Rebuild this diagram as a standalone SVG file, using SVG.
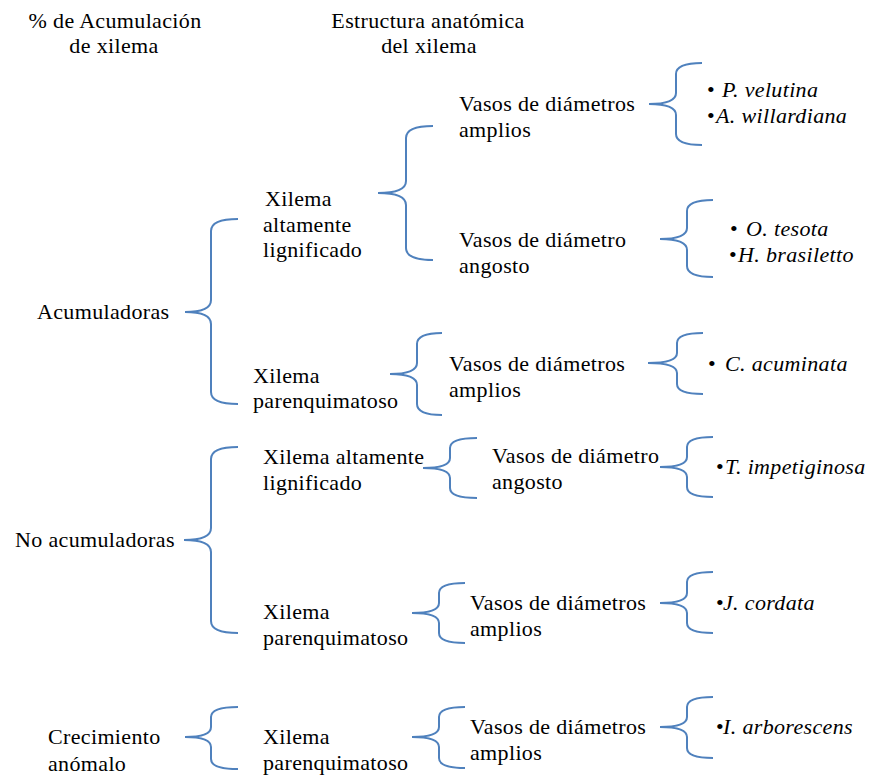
<svg xmlns="http://www.w3.org/2000/svg" width="872" height="777" viewBox="0 0 872 777">
<style>
text{font-family:"Liberation Serif","Times New Roman",serif;font-size:22px;letter-spacing:0.35px;fill:#000}
.sp{font-style:italic}
.br{fill:none;stroke:#4F81BD;stroke-width:2}
</style>
<rect width="872" height="777" fill="#fff"/>
<g id="connectors">
<path class="br" d="M238,219 Q211,219 211,231 L211,300 Q211,312 185,312 Q211,312 211,324 L211,392 Q211,404 238,404"/>
<path class="br" d="M433,126 Q406,126 406,138 L406,181 Q406,193 378,193 Q406,193 406,205 L406,248 Q406,260 433,260"/>
<path class="br" d="M702,63 Q676,63 676,74 L676,93 Q676,104 649,104 Q676,104 676,115 L676,134 Q676,145 702,145"/>
<path class="br" d="M713,200 Q687,200 687,211 L687,228 Q687,239 660,239 Q687,239 687,250 L687,266 Q687,277 713,277"/>
<path class="br" d="M442,333 Q417,333 417,344 L417,363 Q417,374 390,374 Q417,374 417,385 L417,404 Q417,415 442,415"/>
<path class="br" d="M703,333 Q677,333 677,343 L677,353 Q677,363 648,363 Q677,363 677,373 L677,384 Q677,394 703,394"/>
<path class="br" d="M238,447 Q211,447 211,459 L211,528 Q211,540 184,540 Q211,540 211,552 L211,621 Q211,633 238,633"/>
<path class="br" d="M477,438 Q450,438 450,448 L450,458 Q450,468 423,468 Q450,468 450,478 L450,488 Q450,498 477,498"/>
<path class="br" d="M713,437 Q687,437 687,447 L687,457 Q687,467 660,467 Q687,467 687,477 L687,487 Q687,497 713,497"/>
<path class="br" d="M465,583 Q439,583 439,593 L439,603 Q439,613 412,613 Q439,613 439,623 L439,633 Q439,643 465,643"/>
<path class="br" d="M713,572 Q687,572 687,582 L687,593 Q687,603 660,603 Q687,603 687,613 L687,623 Q687,633 713,633"/>
<path class="br" d="M238,707 Q211,707 211,717 L211,727 Q211,737 185,737 Q211,737 211,747 L211,759 Q211,769 238,769"/>
<path class="br" d="M465,707 Q439,707 439,717 L439,727 Q439,737 412,737 Q439,737 439,747 L439,758 Q439,768 465,768"/>
<path class="br" d="M713,697 Q687,697 687,707 L687,717 Q687,727 660,727 Q687,727 687,737 L687,748 Q687,758 713,758"/>
</g>
<g id="header1"><text x="115" y="28" text-anchor="middle">% de Acumulación</text><text x="114" y="53" text-anchor="middle">de xilema</text></g>
<g id="header2"><text x="428" y="28" text-anchor="middle">Estructura anatómica</text><text x="429" y="53" text-anchor="middle">del xilema</text></g>
<g id="acumuladoras"><text x="37" y="319">Acumuladoras</text></g>
<g id="xil-alt-1"><text x="265" y="206">Xilema</text><text x="263" y="232">altamente</text><text x="263" y="257">lignificado</text></g>
<g id="vasos-amplios-1"><text x="459" y="111">Vasos de diámetros</text><text x="459" y="137">amplios</text></g>
<g id="sp-1"><text x="707" y="97">• <tspan class="sp" x="722">P. velutina</tspan></text><text x="707" y="123">•<tspan class="sp" x="716">A. willardiana</tspan></text></g>
<g id="vasos-angosto-1"><text x="459" y="247">Vasos de diámetro</text><text x="459" y="273">angosto</text></g>
<g id="sp-2"><text x="730" y="236">• <tspan class="sp" x="746">O. tesota</tspan></text><text x="729" y="262">•<tspan class="sp" x="738">H. brasiletto</tspan></text></g>
<g id="xil-par-1"><text x="253" y="383">Xilema</text><text x="253" y="408">parenquimatoso</text></g>
<g id="vasos-amplios-2"><text x="449" y="371">Vasos de diámetros</text><text x="449" y="397">amplios</text></g>
<g id="sp-3"><text x="708" y="371">• <tspan class="sp" x="725">C. acuminata</tspan></text></g>
<g id="no-acumuladoras"><text x="15" y="547">No acumuladoras</text></g>
<g id="xil-alt-2"><text x="263" y="464">Xilema altamente</text><text x="263" y="490">lignificado</text></g>
<g id="vasos-angosto-2"><text x="492" y="463">Vasos de diámetro</text><text x="492" y="489">angosto</text></g>
<g id="sp-4"><text x="716" y="474">•<tspan class="sp" x="725">T. impetiginosa</tspan></text></g>
<g id="xil-par-2"><text x="263" y="619">Xilema</text><text x="263" y="645">parenquimatoso</text></g>
<g id="vasos-amplios-3"><text x="470" y="610">Vasos de diámetros</text><text x="470" y="636">amplios</text></g>
<g id="sp-5"><text x="716" y="610">•<tspan class="sp" x="723">J. cordata</tspan></text></g>
<g id="crecimiento"><text x="48" y="744">Crecimiento</text><text x="48" y="771">anómalo</text></g>
<g id="xil-par-3"><text x="263" y="744">Xilema</text><text x="263" y="770">parenquimatoso</text></g>
<g id="vasos-amplios-4"><text x="470" y="734">Vasos de diámetros</text><text x="470" y="760">amplios</text></g>
<g id="sp-6"><text x="716" y="734">•<tspan class="sp" x="723">I. arborescens</tspan></text></g>
</svg>
